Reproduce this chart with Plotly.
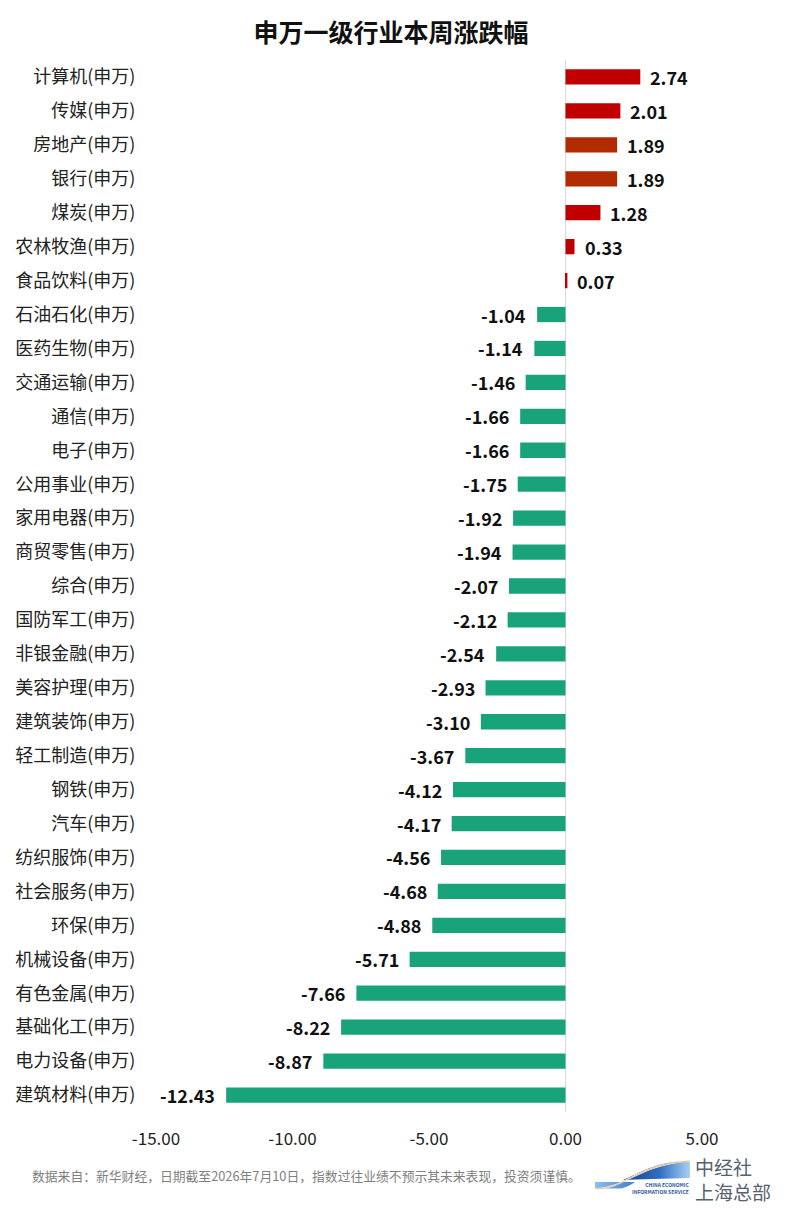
import base64
import plotly.graph_objects as go

categories = ["计算机(申万)", "传媒(申万)", "房地产(申万)", "银行(申万)", "煤炭(申万)",
              "农林牧渔(申万)", "食品饮料(申万)", "石油石化(申万)", "医药生物(申万)",
              "交通运输(申万)", "通信(申万)", "电子(申万)", "公用事业(申万)", "家用电器(申万)",
              "商贸零售(申万)", "综合(申万)", "国防军工(申万)", "非银金融(申万)",
              "美容护理(申万)", "建筑装饰(申万)", "轻工制造(申万)", "钢铁(申万)", "汽车(申万)",
              "纺织服饰(申万)", "社会服务(申万)", "环保(申万)", "机械设备(申万)",
              "有色金属(申万)", "基础化工(申万)", "电力设备(申万)", "建筑材料(申万)"]
values = [2.74, 2.01, 1.89, 1.89, 1.28, 0.33, 0.07, -1.04, -1.14, -1.46, -1.66, -1.66,
          -1.75, -1.92, -1.94, -2.07, -2.12, -2.54, -2.93, -3.10, -3.67, -4.12, -4.17,
          -4.56, -4.68, -4.88, -5.71, -7.66, -8.22, -8.87, -12.43]
x_tick_values = [-15, -10, -5, 0, 5]

title = "申万一级行业本周涨跌幅"
footer = "数据来自：新华财经，日期截至2026年7月10日，指数过往业绩不预示其未来表现，投资须谨慎。"

# styles
RED = "#C00000"
BROWN = "#B22A00"
GREEN = "#19A37B"
highlight = {"房地产(申万)": BROWN, "银行(申万)": BROWN}
bar_colors = [highlight.get(c, RED if v >= 0 else GREEN) for c, v in zip(categories, values)]

FONT = "Noto Sans CJK SC, sans-serif"
W, H = 803, 1208
ML, MR, MT, MB = 156, 101, 60, 96
PW, PH = W - ML - MR, H - MT - MB


def px(x):
    return (x - ML) / PW


def py(y):
    return (H - MB - y) / PH


fig = go.Figure()
fig.add_trace(go.Bar(
    x=values, y=categories, orientation="h",
    marker=dict(color=bar_colors, line=dict(width=0)),
    width=0.45, hoverinfo="x+y",
))

annotations = []
for c, v in zip(categories, values):
    annotations.append(dict(
        x=v, y=c, xref="x", yref="y", text=f"<b>{v:.2f}</b>", showarrow=False,
        xanchor="left" if v >= 0 else "right", yanchor="middle",
        xshift=8 if v >= 0 else -9,
        font=dict(family=FONT, size=18, color="#111111"),
    ))

annotations.append(dict(
    x=px(30), y=py(1175), xref="paper", yref="paper", text=footer, showarrow=False,
    xanchor="left", yanchor="middle", font=dict(family=FONT, size=12.8, color="#808080"),
))
# logo text (two lines in one block)
annotations.append(dict(
    x=px(694), y=py(1179), xref="paper", yref="paper", text="中经社<br>上海总部", showarrow=False,
    xanchor="left", yanchor="middle", align="left", borderpad=0,
    font=dict(family=FONT, size=19, color="#55616d"),
))
annotations.append(dict(
    x=px(690), y=py(1188), xref="paper", yref="paper",
    text="<b>CHINA ECONOMIC</b><br><b>INFORMATION SERVICE</b>", showarrow=False,
    xanchor="right", yanchor="middle", align="right", borderpad=0,
    font=dict(family=FONT, size=5, color="#2f5597"),
))

svg = """<svg xmlns='http://www.w3.org/2000/svg' width='95' height='30' viewBox='0 0 95 30'>
<defs>
<linearGradient id='g1' x1='0' y1='0' x2='1' y2='0'>
<stop offset='0' stop-color='#1a3d8f'/><stop offset='0.55' stop-color='#2f6fc4'/><stop offset='1' stop-color='#a9d2f2'/>
</linearGradient>
<linearGradient id='g2' x1='0' y1='0' x2='1' y2='0'>
<stop offset='0' stop-color='#8cc0ec'/><stop offset='1' stop-color='#3f7fcf'/>
</linearGradient>
</defs>
<path d='M28,20 C44,14 58,2 95,0.5 L95,18 L40,19.5 Z' fill='url(#g1)'/>
<path d='M0,22 L40,22 C36,25 32,27 26,28.5 L0,28.5 Z' fill='url(#g2)'/>
<path d='M2,29 C30,28 44,4 95,1' fill='none' stroke='#ffffff' stroke-width='1.6'/>
<path d='M2,29 C30,28 44,4 95,1' fill='none' stroke='#f0a040' stroke-width='0.7'/>
</svg>"""
svg_uri = "data:image/svg+xml;base64," + base64.b64encode(svg.encode("utf-8")).decode()

fig.update_layout(
    width=W, height=H,
    margin=dict(l=ML, r=MR, t=MT, b=MB, pad=0),
    paper_bgcolor="white", plot_bgcolor="white",
    showlegend=False,
    title=dict(text=f"<b>{title}</b>", x=391 / W, xanchor="center", xref="container",
               y=1 - 33 / H, yanchor="middle", yref="container",
               font=dict(family=FONT, size=25, color="#111111")),
    xaxis=dict(range=[-15, 5], tickvals=x_tick_values,
               ticktext=[f"{t:.2f}" for t in x_tick_values],
               showgrid=False, zeroline=True, zerolinecolor="#d9d9d9", zerolinewidth=1,
               showline=False, ticks="outside", ticklen=12, tickcolor="rgba(0,0,0,0)",
               tickfont=dict(family=FONT, size=17, color="#222222"), fixedrange=True),
    yaxis=dict(autorange="reversed", showgrid=False, zeroline=False, showline=False,
               ticks="outside", ticklen=16, tickcolor="rgba(0,0,0,0)",
               tickfont=dict(family=FONT, size=18, color="#222222"), fixedrange=True),
    annotations=annotations,
    images=[dict(source=svg_uri, xref="paper", yref="paper", x=px(595), y=py(1160),
                 sizex=95 / PW, sizey=30 / PH, xanchor="left", yanchor="top",
                 sizing="stretch", layer="above")],
    font=dict(family=FONT),
)

fig.write_html("out.html")
